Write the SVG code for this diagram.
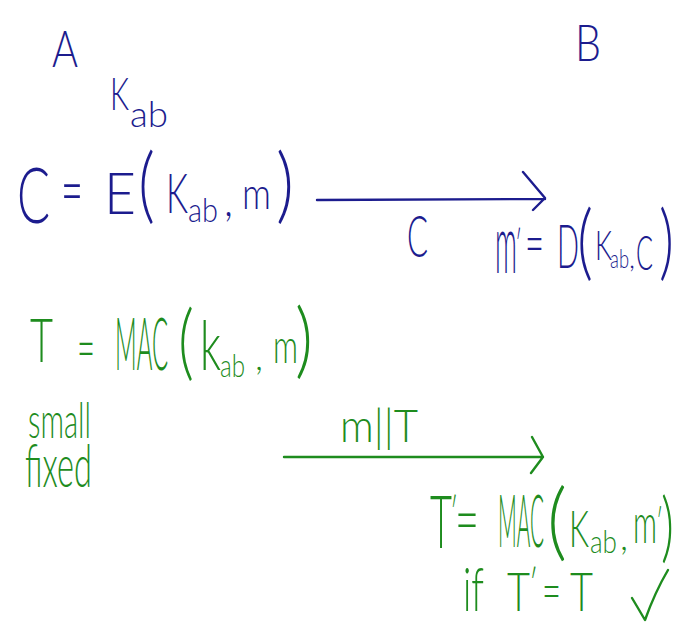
<svg xmlns="http://www.w3.org/2000/svg" width="681" height="622" viewBox="0 0 681 622">
<style>
text{font-family:Lato,"Open Sans","Liberation Sans",sans-serif;font-weight:300}
.b{fill:#1c1c8e}
.g{fill:#1e8c1e}
.lb{stroke:#1c1c8e;stroke-width:2.4;fill:none;stroke-linecap:round;stroke-linejoin:round}
.lg{stroke:#1e8c1e;stroke-width:2.4;fill:none;stroke-linecap:round;stroke-linejoin:round}
</style>
<rect width="681" height="622" fill="#ffffff"/>
<g id="party-a" class="b">
<text x="52" y="67" font-size="52" textLength="26" lengthAdjust="spacingAndGlyphs">A</text>
<text x="110" y="110" font-size="46" textLength="19" lengthAdjust="spacingAndGlyphs">K</text>
<text x="130" y="127" font-size="36" textLength="38" lengthAdjust="spacingAndGlyphs">ab</text>
</g>
<g id="party-b" class="b">
<text x="575" y="61" font-size="52" textLength="26" lengthAdjust="spacingAndGlyphs">B</text>
</g>
<g id="encrypt" class="b">
<text x="17" y="223" font-size="76" textLength="33" lengthAdjust="spacingAndGlyphs">C</text>
<text x="61" y="215" font-size="70" textLength="22" lengthAdjust="spacingAndGlyphs">=</text>
<text x="104" y="214" font-size="58" textLength="32" lengthAdjust="spacingAndGlyphs">E</text>
<text x="138" y="213" font-size="82" textLength="17" lengthAdjust="spacingAndGlyphs">(</text>
<text x="166" y="213" font-size="56" textLength="22" lengthAdjust="spacingAndGlyphs">K</text>
<text x="188" y="222" font-size="34" textLength="30" lengthAdjust="spacingAndGlyphs">ab</text>
<text x="224" y="216" font-size="46" textLength="9" lengthAdjust="spacingAndGlyphs">,</text>
<text x="242" y="209" font-size="44" textLength="29" lengthAdjust="spacingAndGlyphs">m</text>
<text x="276" y="213" font-size="82" textLength="18" lengthAdjust="spacingAndGlyphs">)</text>
</g>
<g id="decrypt" class="b">
<text transform="translate(495,273) scale(1,1.55)" x="0" y="0" font-size="54" textLength="22" lengthAdjust="spacingAndGlyphs">m</text>
<text x="515" y="258" font-size="38" textLength="7" lengthAdjust="spacingAndGlyphs">′</text>
<text x="525" y="265" font-size="62" textLength="19" lengthAdjust="spacingAndGlyphs">=</text>
<text x="557" y="268" font-size="62" textLength="22" lengthAdjust="spacingAndGlyphs">D</text>
<text x="577" y="270" font-size="82" textLength="16" lengthAdjust="spacingAndGlyphs">(</text>
<text x="595" y="260" font-size="42" textLength="17" lengthAdjust="spacingAndGlyphs">K</text>
<text x="610" y="268" font-size="26" textLength="19" lengthAdjust="spacingAndGlyphs">ab</text>
<text x="629" y="268" font-size="28" textLength="6" lengthAdjust="spacingAndGlyphs">,</text>
<text x="636" y="270" font-size="48" textLength="17" lengthAdjust="spacingAndGlyphs">C</text>
<text x="659" y="270" font-size="82" textLength="15" lengthAdjust="spacingAndGlyphs">)</text>
</g>
<g id="mac" class="g">
<text x="30" y="362" font-size="62" textLength="23" lengthAdjust="spacingAndGlyphs">T</text>
<text x="77" y="370" font-size="64" textLength="18" lengthAdjust="spacingAndGlyphs">=</text>
<text x="115" y="370" font-size="72" textLength="53" lengthAdjust="spacingAndGlyphs">MAC</text>
<text x="178" y="370" font-size="82" textLength="16" lengthAdjust="spacingAndGlyphs">(</text>
<text x="200" y="370" font-size="68" textLength="21" lengthAdjust="spacingAndGlyphs">k</text>
<text x="220" y="377" font-size="32" textLength="25" lengthAdjust="spacingAndGlyphs">ab</text>
<text x="255" y="370" font-size="38" textLength="8" lengthAdjust="spacingAndGlyphs">,</text>
<text x="273" y="363" font-size="48" textLength="25" lengthAdjust="spacingAndGlyphs">m</text>
<text x="295" y="368" font-size="82" textLength="18" lengthAdjust="spacingAndGlyphs">)</text>
</g>
<g id="note" class="g">
<text x="28" y="438" font-size="50" textLength="63" lengthAdjust="spacingAndGlyphs">small</text>
<text x="25" y="487" font-size="60" textLength="67" lengthAdjust="spacingAndGlyphs">fixed</text>
</g>
<g id="verify" class="g">
<text x="430" y="548" font-size="72" textLength="22" lengthAdjust="spacingAndGlyphs">T</text>
<text x="450" y="528" font-size="42" textLength="8" lengthAdjust="spacingAndGlyphs">′</text>
<text x="455" y="544" font-size="68" textLength="24" lengthAdjust="spacingAndGlyphs">=</text>
<text x="498" y="547" font-size="72" textLength="46" lengthAdjust="spacingAndGlyphs">MAC</text>
<text x="547" y="550" font-size="84" textLength="20" lengthAdjust="spacingAndGlyphs">(</text>
<text x="569" y="547" font-size="52" textLength="20" lengthAdjust="spacingAndGlyphs">K</text>
<text x="590" y="553" font-size="32" textLength="27" lengthAdjust="spacingAndGlyphs">ab</text>
<text x="620" y="550" font-size="38" textLength="8" lengthAdjust="spacingAndGlyphs">,</text>
<text x="633" y="543" font-size="56" textLength="24" lengthAdjust="spacingAndGlyphs">m</text>
<text x="656" y="535" font-size="36" textLength="7" lengthAdjust="spacingAndGlyphs">′</text>
<text x="661" y="553" font-size="76" textLength="13" lengthAdjust="spacingAndGlyphs">)</text>
<text x="463" y="611" font-size="62" textLength="21" lengthAdjust="spacingAndGlyphs">if</text>
<text x="507" y="611" font-size="54" textLength="23" lengthAdjust="spacingAndGlyphs">T</text>
<text x="529" y="597" font-size="38" textLength="9" lengthAdjust="spacingAndGlyphs">′</text>
<text x="542" y="611" font-size="58" textLength="19" lengthAdjust="spacingAndGlyphs">=</text>
<text x="570" y="611" font-size="54" textLength="23" lengthAdjust="spacingAndGlyphs">T</text>
<path class="lg" d="M632,598 Q638,608 645,620 Q655,592 668,570"/>
</g>
<g id="connectors">
<g id="arrow-c">
<path class="lb" d="M317,200 L545,199 M523,172 L545,198 L533,210"/>
<text class="b" x="407" y="257" font-size="58" textLength="21" lengthAdjust="spacingAndGlyphs">C</text>
</g>
<g id="arrow-mt">
<path class="lg" d="M284,457 L543,457 M532,437 L543,457 L531,473"/>
<text class="g" x="340" y="442" font-size="45" textLength="78" lengthAdjust="spacingAndGlyphs">m||T</text>
</g>
</g>
</svg>
